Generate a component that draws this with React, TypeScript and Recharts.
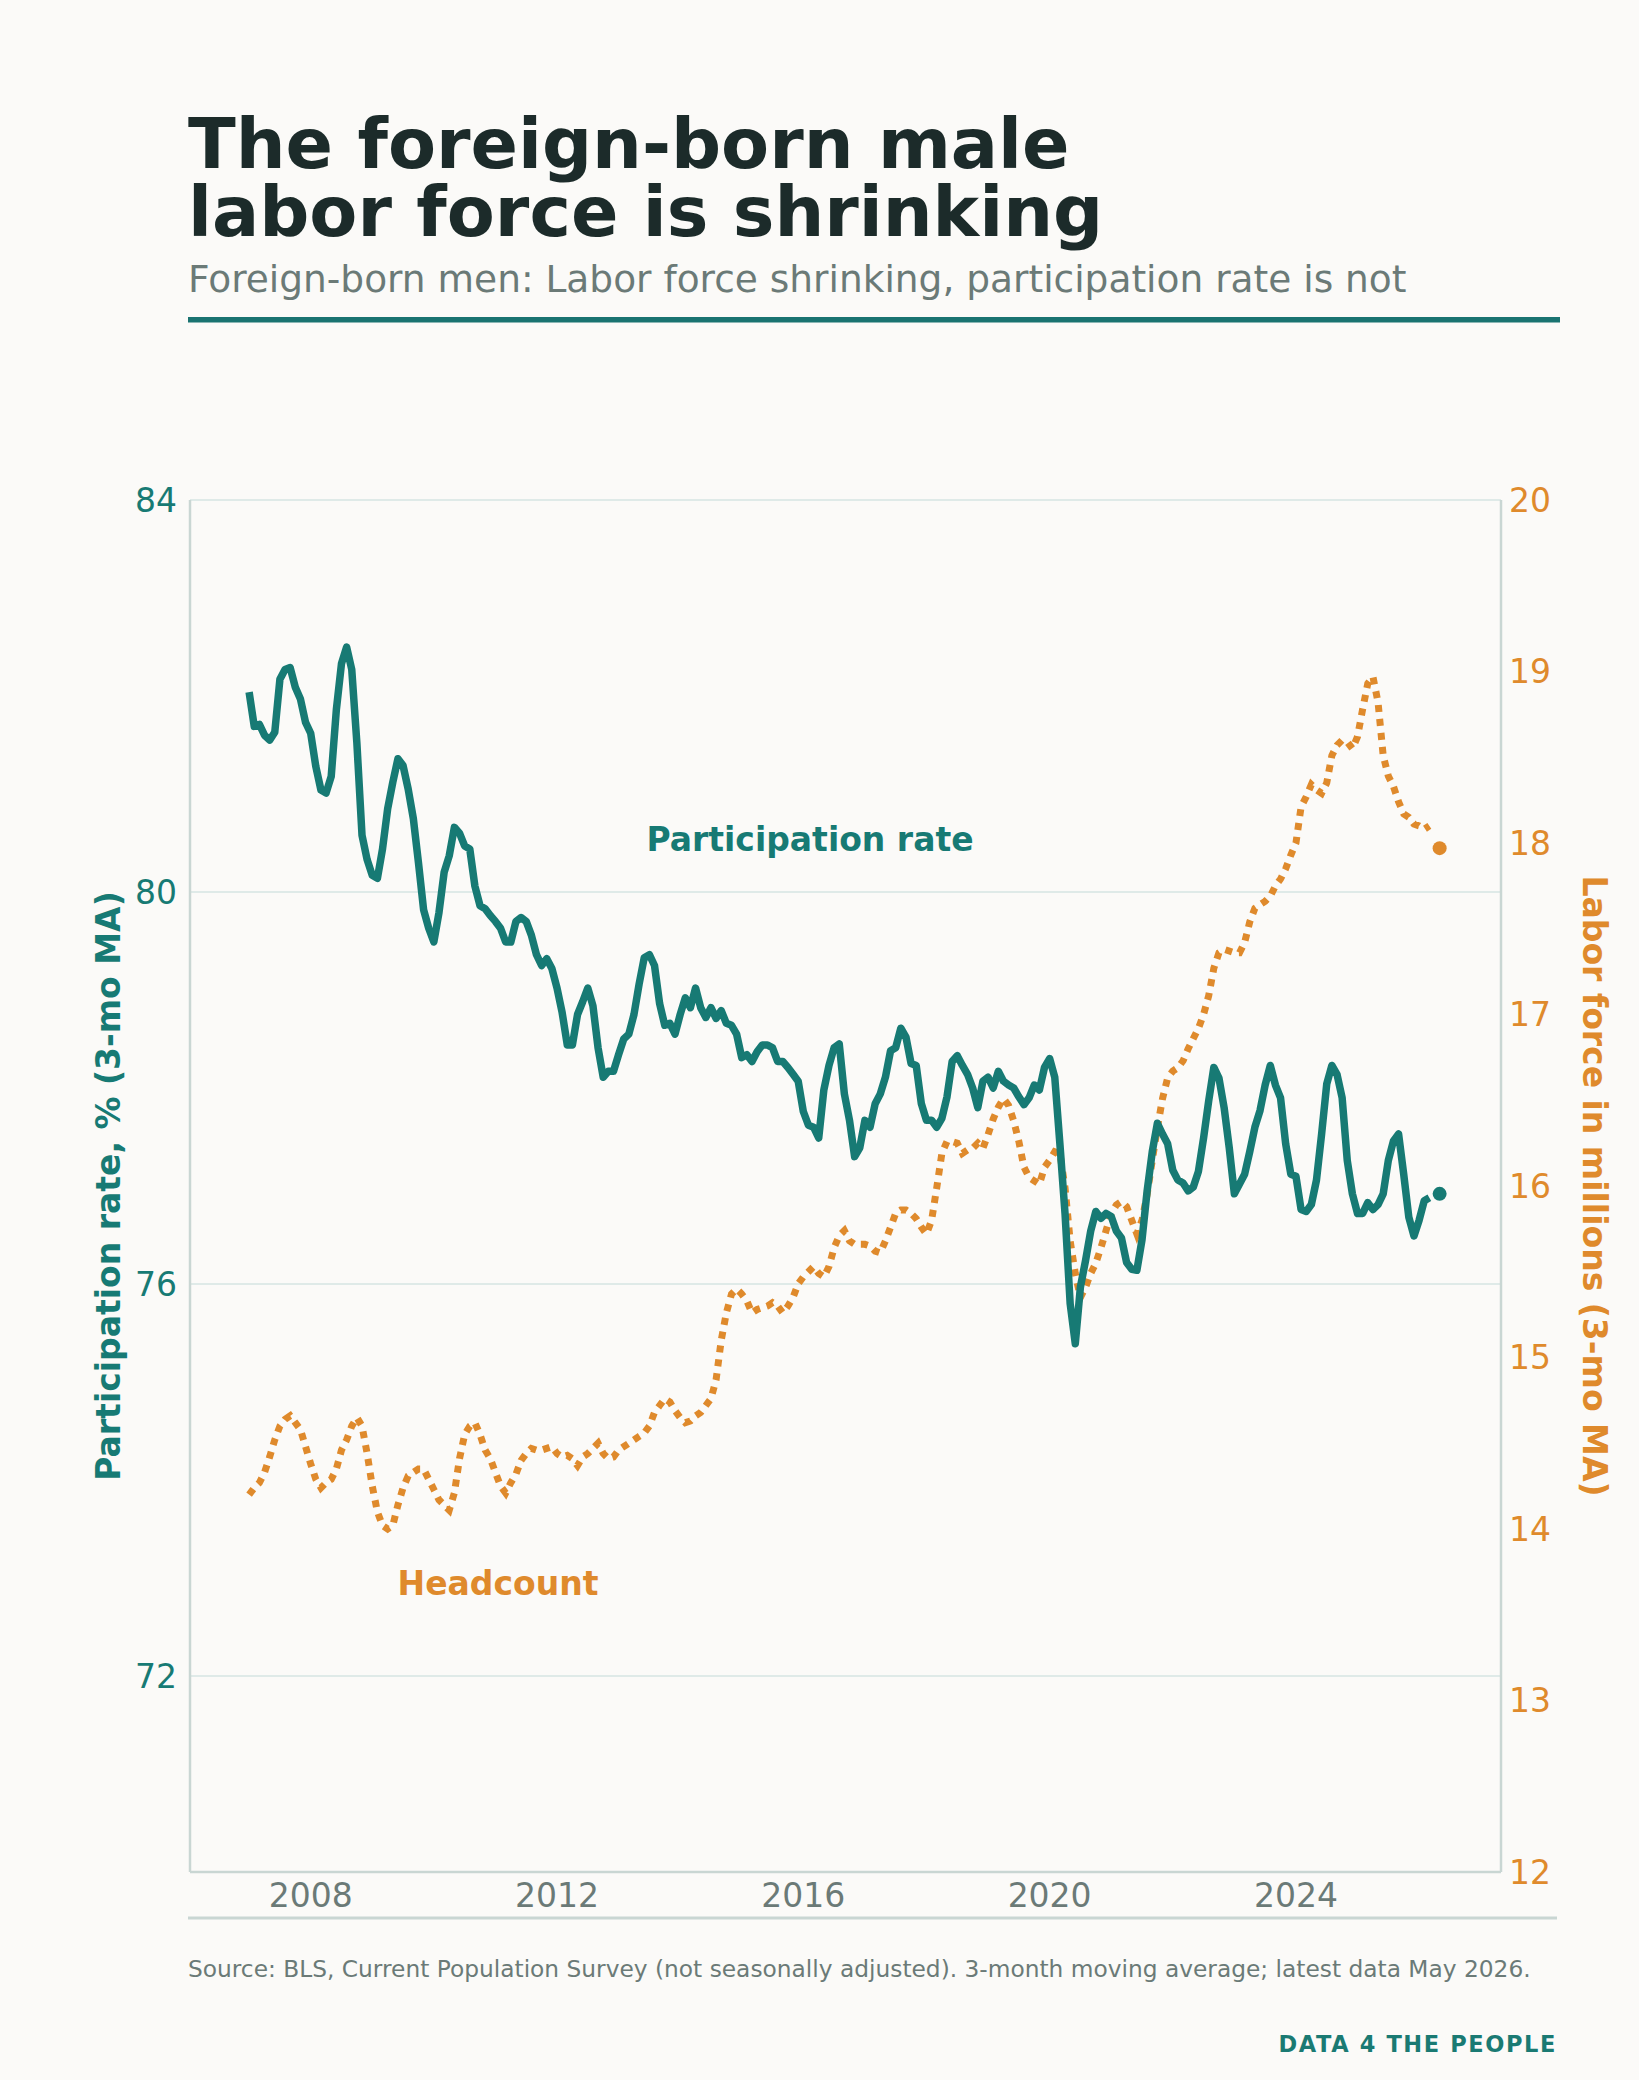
import React from 'react';
import { LineChart, Line, XAxis, YAxis, CartesianGrid } from 'recharts';

// monthly, Jan 2007 .. May 2026 (3-mo moving average)
const START_YEAR = 2007;

const participationRate = [
  82.04, 81.69, 81.71, 81.6, 81.55, 81.63, 82.17, 82.27, 82.29, 82.09, 81.97, 81.73,
  81.62, 81.28, 81.04, 81.01, 81.18, 81.86, 82.33, 82.5, 82.27, 81.52, 80.58, 80.33,
  80.17, 80.14, 80.44, 80.85, 81.12, 81.36, 81.29, 81.05, 80.75, 80.3, 79.82, 79.63,
  79.49, 79.79, 80.2, 80.37, 80.66, 80.6, 80.47, 80.44, 80.06, 79.86, 79.83, 79.76,
  79.7, 79.63, 79.49, 79.49, 79.7, 79.74, 79.7, 79.56, 79.36, 79.25, 79.32, 79.22,
  79.02, 78.77, 78.44, 78.44, 78.75, 78.88, 79.02, 78.84, 78.41, 78.11, 78.17, 78.17,
  78.34, 78.5, 78.55, 78.75, 79.06, 79.33, 79.36, 79.25, 78.86, 78.64, 78.66, 78.55,
  78.75, 78.92, 78.82, 79.02, 78.82, 78.72, 78.82, 78.71, 78.79, 78.66, 78.64, 78.55,
  78.31, 78.34, 78.27, 78.37, 78.44, 78.44, 78.41, 78.27, 78.27, 78.21, 78.14, 78.07,
  77.76, 77.62, 77.6, 77.49, 77.98, 78.23, 78.41, 78.45, 77.94, 77.67, 77.3, 77.39,
  77.67, 77.6, 77.84, 77.94, 78.11, 78.38, 78.41, 78.61, 78.52, 78.25, 78.23, 77.84,
  77.67, 77.67, 77.6, 77.69, 77.91, 78.27, 78.33, 78.23, 78.14, 78.0, 77.8, 78.07,
  78.11, 78.0, 78.17, 78.07, 78.03, 78.0, 77.91, 77.83, 77.9, 78.03, 77.98, 78.21,
  78.3, 78.11, 77.43, 76.72, 75.8, 75.39, 75.97, 76.24, 76.54, 76.74, 76.67, 76.72,
  76.69, 76.54, 76.47, 76.22, 76.15, 76.14, 76.45, 76.95, 77.35, 77.64, 77.53, 77.43,
  77.16, 77.06, 77.03, 76.95, 76.99, 77.15, 77.49, 77.87, 78.21, 78.1, 77.8, 77.39,
  76.92, 77.02, 77.12, 77.35, 77.6, 77.77, 78.03, 78.23, 78.03, 77.9, 77.43, 77.12,
  77.1, 76.76, 76.74, 76.81, 77.06, 77.53, 78.04, 78.23, 78.14, 77.9, 77.26, 76.92,
  76.72, 76.72, 76.83, 76.76, 76.81, 76.92, 77.26, 77.46, 77.53, 77.12, 76.68, 76.49,
  76.65, 76.85, 76.88, null, 76.92,
];

const laborForce = [
  14.2, 14.24, 14.27, 14.33, 14.42, 14.52, 14.6, 14.64, 14.66, 14.62, 14.58, 14.48,
  14.38, 14.29, 14.24, 14.27, 14.29, 14.35, 14.46, 14.52, 14.6, 14.65, 14.6, 14.44,
  14.25, 14.1, 14.02, 14.0, 14.02, 14.14, 14.24, 14.31, 14.33, 14.35, 14.35, 14.29,
  14.23, 14.17, 14.14, 14.11, 14.21, 14.41, 14.55, 14.6, 14.62, 14.55, 14.46, 14.41,
  14.33, 14.25, 14.21, 14.27, 14.32, 14.4, 14.44, 14.47, 14.46, 14.46, 14.47, 14.48,
  14.44, 14.42, 14.43, 14.41, 14.37, 14.42, 14.44, 14.47, 14.5, 14.44, 14.41, 14.42,
  14.46, 14.48, 14.5, 14.52, 14.54, 14.56, 14.6, 14.68, 14.72, 14.76, 14.74, 14.69,
  14.65, 14.62, 14.63, 14.66, 14.68, 14.72, 14.76, 14.87, 15.1, 15.26, 15.37, 15.4,
  15.37, 15.33, 15.26, 15.28, 15.29, 15.3, 15.32, 15.3, 15.26, 15.3, 15.35, 15.43,
  15.47, 15.5, 15.53, 15.49, 15.47, 15.53, 15.64, 15.71, 15.74, 15.68, 15.66, 15.66,
  15.66, 15.65, 15.62, 15.61, 15.68, 15.76, 15.84, 15.86, 15.86, 15.84, 15.81, 15.76,
  15.72, 15.8, 15.99, 16.19, 16.26, 16.26, 16.25, 16.19, 16.21, 16.22, 16.25, 16.22,
  16.3, 16.39, 16.46, 16.51, 16.47, 16.38, 16.26, 16.11, 16.05, 16.03, 16.01, 16.11,
  16.15, 16.2, 16.19, 15.99, 15.68, 15.49, 15.35, 15.41, 15.49, 15.55, 15.64, 15.74,
  15.84, 15.89, 15.91, 15.88, 15.8, 15.72, 15.8, 15.95, 16.15, 16.34, 16.51, 16.63,
  16.67, 16.69, 16.73, 16.8, 16.86, 16.92, 17.0, 17.11, 17.27, 17.36, 17.38, 17.37,
  17.36, 17.36, 17.42, 17.54, 17.62, 17.64, 17.66, 17.69, 17.75, 17.79, 17.85, 17.93,
  18.0, 18.21, 18.27, 18.34, 18.31, 18.29, 18.35, 18.51, 18.57, 18.6, 18.59, 18.55,
  18.62, 18.78, 18.93, 18.97, 18.82, 18.51, 18.39, 18.33, 18.24, 18.17, 18.15, 18.11,
  18.1, 18.08, 18.1, null, 17.97,
];

const yearTicks = [2008, 2012, 2016, 2020, 2024];
const rateTicks = [72, 76, 80, 84];
const laborTicks = [12, 13, 14, 15, 16, 17, 18, 19, 20];

const TEAL = '#177a74';
const ORANGE = '#df8a2c';
const INK = '#1c2b2a';
const GREY = '#6b7a77';
const RULE = '#c9d6d3';
const FONT = '"DejaVu Sans", sans-serif';

const data = participationRate.map((rate, i) => ({
  t: START_YEAR + i / 12,
  rate,
  labor: laborForce[i],
}));
const LAST = data.length - 1;

const endDot = (color: string) => (props: any) => {
  const { cx, cy, index } = props;
  if (index !== LAST) return <g key={`d${index}`} />;
  return <circle key={`d${index}`} cx={cx} cy={cy} r={7} fill={color} stroke="none" />;
};

const App = () => {
  return (
    <div
      style={{
        position: 'absolute',
        left: 0,
        top: 0,
        width: 1639,
        height: 2080,
        background: '#fbfaf8',
        fontFamily: FONT,
        overflow: 'hidden',
      }}
    >
      <div style={{ position: 'absolute', left: 0, top: 0 }}>
        <LineChart
          width={1639}
          height={2080}
          data={data}
          margin={{ top: 500, right: 58, bottom: 162, left: 110 }}
        >
          <CartesianGrid yAxisId="left" vertical={false} stroke="#dfeae8" strokeWidth={2} />
          <XAxis
            dataKey="t"
            type="number"
            domain={[2006.04, 2027.33]}
            ticks={yearTicks}
            allowDataOverflow
            height={46}
            tickLine={false}
            tickSize={0}
            tickMargin={12}
            axisLine={{ stroke: RULE, strokeWidth: 2.5 }}
            tick={{ fill: GREY, fontSize: 33 }}
          />
          <YAxis
            yAxisId="left"
            domain={[70, 84]}
            ticks={rateTicks}
            width={80}
            tickLine={false}
            tickSize={0}
            tickMargin={13}
            axisLine={{ stroke: RULE, strokeWidth: 2.5 }}
            tick={{ fill: TEAL, fontSize: 33 }}
          />
          <YAxis
            yAxisId="right"
            orientation="right"
            domain={[12, 20]}
            ticks={laborTicks}
            width={80}
            tickLine={false}
            tickSize={0}
            tickMargin={8}
            axisLine={{ stroke: RULE, strokeWidth: 2.5 }}
            tick={{ fill: ORANGE, fontSize: 33, textAnchor: 'start' }}
          />
          <Line
            yAxisId="right"
            dataKey="labor"
            stroke={ORANGE}
            strokeWidth={7}
            strokeDasharray="7 7"
            dot={endDot(ORANGE)}
            activeDot={false}
            isAnimationActive={false}
          />
          <Line
            yAxisId="left"
            dataKey="rate"
            stroke={TEAL}
            strokeWidth={7.5}
            strokeLinejoin="round"
            dot={endDot(TEAL)}
            activeDot={false}
            isAnimationActive={false}
          />
        </LineChart>
      </div>

      <svg
        width={1639}
        height={2080}
        style={{ position: 'absolute', left: 0, top: 0, pointerEvents: 'none' }}
        fontFamily={FONT}
      >
        <text x={188} y={168} fontSize={70} fontWeight="bold" fill={INK}>
          The foreign-born male
        </text>
        <text x={188} y={236} fontSize={70} fontWeight="bold" fill={INK}>
          labor force is shrinking
        </text>
        <text x={188} y={292} fontSize={37.5} fill={GREY}>
          Foreign-born men: Labor force shrinking, participation rate is not
        </text>
        <rect x={188} y={317} width={1372} height={5.5} fill="#1a7371" />

        <text
          x={108}
          y={1186}
          fontSize={33}
          fontWeight="bold"
          fill={TEAL}
          textAnchor="middle"
          dominantBaseline="central"
          transform="rotate(-90 108 1186)"
        >
          Participation rate, % (3-mo MA)
        </text>
        <text
          x={1594}
          y={1186}
          fontSize={33}
          fontWeight="bold"
          fill={ORANGE}
          textAnchor="middle"
          dominantBaseline="central"
          transform="rotate(90 1594 1186)"
        >
          Labor force in millions (3-mo MA)
        </text>

        <text x={810} y={851} fontSize={33} fontWeight="bold" fill={TEAL} textAnchor="middle">
          Participation rate
        </text>
        <text x={498} y={1595} fontSize={33} fontWeight="bold" fill={ORANGE} textAnchor="middle">
          Headcount
        </text>

        <rect x={188} y={1916.5} width={1369} height={3} fill={RULE} />
        <text x={188} y={1977} fontSize={23.3} fill={GREY}>
          Source: BLS, Current Population Survey (not seasonally adjusted). 3-month moving average; latest data May 2026.
        </text>
        <text
          x={1557}
          y={2052}
          fontSize={22.5}
          fontWeight="bold"
          fill="#1a7a73"
          textAnchor="end"
          letterSpacing={1.6}
        >
          DATA 4 THE PEOPLE
        </text>
      </svg>
    </div>
  );
};

export default App;
